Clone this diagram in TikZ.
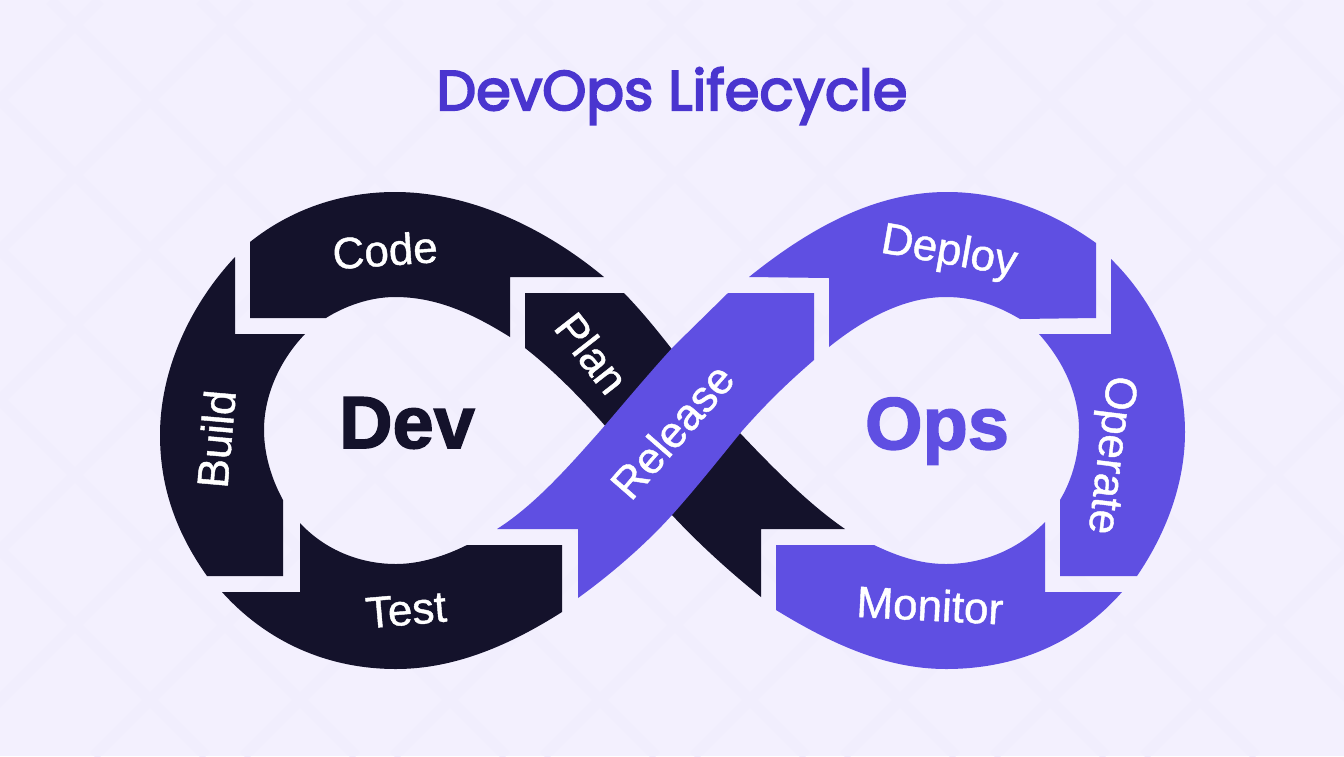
\documentclass[tikz,border=0pt]{standalone}
\usepackage{fontspec}
\setmainfont{Liberation Sans}
\newfontfamily\titlefont[FakeBold=3.5]{Poppins}
\newfontfamily\stepfont[FakeBold=1]{Liberation Sans}
\newfontfamily\hubfont[FakeBold=2]{Liberation Sans Bold}
\definecolor{pagebg}{HTML}{F3F0FE}
\definecolor{gridbg}{HTML}{F1EEFD}
\definecolor{darkband}{HTML}{14122B}
\definecolor{purpleband}{HTML}{5F4FE2}
\definecolor{titleink}{HTML}{4A35CF}

\begin{document}
\begin{tikzpicture}[x=0.5pt, y=-0.5pt, inner sep=0pt,
	dev band/.style={fill=darkband},
	ops band/.style={fill=purpleband},
	step node/.style={text=white,font=\stepfont\fontsize{22}{22}\selectfont},
	hub node/.style={font=\hubfont\fontsize{37}{37}\selectfont},
	title node/.style={text=titleink,font=\titlefont\fontsize{28}{28}\selectfont}]
	
	\useasboundingbox (0,0) rectangle (1344,756);
	\fill[pagebg] (0,0) rectangle (1344,756);
	\foreach \i in {-550,-400,...,1300}{
		\draw[gridbg,line width=5pt] (\i,0) -- (\i+756,756);
		\draw[gridbg,line width=5pt] (\i+650,0) -- (\i-106,756);
	}
	
	% dev side
	\fill[dev band] (250,242) .. controls (290,210) and (340,192) .. (395,192) .. controls (470,192) and (545,228) .. (604,277) -- (510,277) -- (510,337) .. controls (470,312) and (435,297) .. (395,297) .. controls (370,297) and (345,306) .. (326,318) -- (250,318) -- cycle;
	\fill[dev band] (235,257) .. controls (190,305) and (160,370) .. (160,435) .. controls (160,490) and (178,535) .. (207,576) -- (283,576) -- (283,500) .. controls (272,480) and (264,455) .. (264,430) .. controls (264,395) and (280,360) .. (305,334) -- (235,334) -- cycle;
	\fill[dev band] (300,523) .. controls (325,550) and (360,564) .. (396,564) .. controls (420,564) and (445,556) .. (467,545) -- (562,545) -- (562,612) .. controls (510,645) and (455,669) .. (396,669) .. controls (325,669) and (265,640) .. (222,592) -- (300,592) -- cycle;
	\fill[dev band] (525,293) -- (624,293) .. controls (665,335) and (700,390) .. (740,433) .. controls (775,470) and (810,505) .. (845,529) -- (761,529) -- (761,597) .. controls (730,572) and (700,545) .. (672,515) .. controls (650,490) and (630,455) .. (607,428) .. controls (580,397) and (553,370) .. (525,348) -- cycle;
	
	% ops side
	\fill[ops band] (728,293) -- (814,293) -- (814,360) .. controls (785,385) and (765,405) .. (742,431) .. controls (720,458) and (697,487) .. (672,515) .. controls (645,545) and (610,575) .. (578,598) -- (578,529) -- (497,529) .. controls (535,505) and (570,465) .. (601,430) .. controls (625,402) and (650,372) .. (674,346) -- cycle;
	\fill[ops band] (749,277) .. controls (810,228) and (875,192) .. (947,192) .. controls (1000,192) and (1050,210) .. (1096,243) -- (1096,318) -- (1020,319) .. controls (998,306) and (975,297) .. (946,297) .. controls (905,297) and (865,318) .. (829,347) -- (829,278) -- cycle;
	\fill[ops band] (1111,259) .. controls (1158,305) and (1185,370) .. (1185,432) .. controls (1185,485) and (1165,535) .. (1137,576) -- (1060,576) -- (1060,500) .. controls (1072,480) and (1079,455) .. (1079,430) .. controls (1079,395) and (1064,362) .. (1039,334) -- (1111,334) -- cycle;
	\fill[ops band] (776,545) -- (874,545) .. controls (897,556) and (920,564) .. (946,564) .. controls (985,564) and (1020,548) .. (1045,522) -- (1045,592) -- (1122,592) .. controls (1080,640) and (1020,669) .. (946,669) .. controls (885,669) and (830,643) .. (776,610) -- cycle;
	
	\node[title node] (title) at (672,96) {DevOps Lifecycle};
	\node[hub node,text=darkband] (dev) at (407,423) {Dev};
	\node[hub node,text=purpleband] (ops) at (937,431) {Ops};
	
	\node[step node,rotate=4] (code) at (385,250) {Code};
	\node[step node,rotate=85] (build) at (216,439) {Build};
	\node[step node,rotate=5] (test) at (406,610) {Test};
	\node[step node,rotate=-52] (plan) at (592,353) {Plan};
	\node[step node,rotate=49] (release) at (672,431) {Release};
	\node[step node,rotate=-10] (deploy) at (949,253) {Deploy};
	\node[step node,rotate=-97] (operate) at (1109,455) {Operate};
	\node[step node,rotate=-3] (monitor) at (930,605) {Monitor};
	\end{tikzpicture}
\end{document}
